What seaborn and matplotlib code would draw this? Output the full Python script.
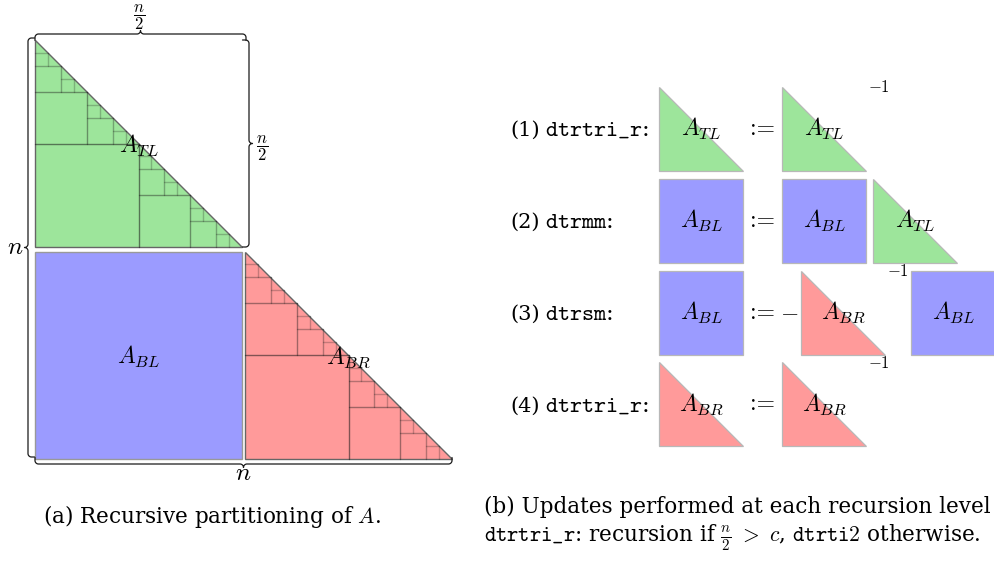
import numpy as np
import matplotlib
matplotlib.use("Agg")
from matplotlib import pyplot as plt
from matplotlib.patches import Polygon, Rectangle
import seaborn as sns

# blocks of A and their colours
block_names = ["TL", "BL", "BR"]
block_colors = {"TL": "#9de59b", "BL": "#9b9bff", "BR": "#ff9a9a"}
depth = 4  # recursion levels drawn in the triangles

# update rows of (b): number, routine, lhs block, rhs terms (block, inverted)
row_nums = ["(1)", "(2)", "(3)", "(4)"]
row_routines = ["dtrtri\\_r", "dtrmm", "dtrsm", "dtrtri\\_r"]
row_lhs = ["TL", "BL", "BL", "BR"]
row_neg = [False, False, True, False]
row_rhs = [[("TL", True)],
           [("BL", False), ("TL", False)],
           [("BR", True), ("BL", False)],
           [("BR", True)]]

cap_a = r"(a) Recursive partitioning of $A$."
cap_b1 = r"(b) Updates performed at each recursion level"
cap_b2 = r"$\mathtt{dtrtri\_r}$: recursion if $\frac{n}{2}\ >\ c$, $\mathtt{dtrti2}$ otherwise."

sns.set_theme(style="white")
plt.rcParams["font.family"] = ["DejaVu Serif"]
plt.rcParams["mathtext.fontset"] = "cm"
plt.rcParams["text.color"] = "black"

fig = plt.figure(figsize=(9.94, 5.62), dpi=100)
ax = fig.add_axes([0, 0, 1, 1])
ax.set_xlim(0, 994)
ax.set_ylim(562, 0)
ax.axis("off")


def is_tri(name):
    return name in ("TL", "BR")


def draw_block(x, y, s, name, edge="#b8b8b8", lw=0.9):
    if is_tri(name):
        p = Polygon([(x, y), (x, y + s), (x + s, y + s)], closed=True,
                    facecolor=block_colors[name], edgecolor=edge, lw=lw)
    else:
        p = Rectangle((x, y), s, s, facecolor=block_colors[name],
                      edgecolor=edge, lw=lw)
    ax.add_patch(p)


def split(x, y, s, level):
    if level > depth:
        return
    h = s / 2
    a = [0.55, 0.42, 0.32, 0.25][level - 1]
    ax.plot([x, x + h], [y + h, y + h], color="k", alpha=a, lw=1.0)
    ax.plot([x + h, x + h], [y + h, y + s], color="k", alpha=a, lw=1.0)
    split(x, y, h, level + 1)
    split(x + h, y + h, h, level + 1)


def arc(cx, cy, r, t0, t1):
    t = np.linspace(np.radians(t0), np.radians(t1), 20)
    return cx + r * np.cos(t), cy + r * np.sin(t)


def brace(a, b, pos, orient, r=3.5, tail=3.0):
    # brace along u in [a, b]; v = offset from pos towards the tip
    m = (a + b) / 2
    us, vs = [a, a], [-tail, 0]
    for cx, cy, t0, t1 in [(a + r, 0, 180, 90), (m - r, 2 * r, 270, 360),
                           (m + r, 2 * r, 180, 270), (b - r, 0, 90, 0)]:
        u, v = arc(cx, cy, r, t0, t1)
        us += list(u)
        vs += list(v)
    us += [b]
    vs += [-tail]
    us, vs = np.array(us), np.array(vs)
    if orient == "up":
        ax.plot(us, pos - vs, color="k", lw=0.9)
    elif orient == "down":
        ax.plot(us, pos + vs, color="k", lw=0.9)
    elif orient == "left":
        ax.plot(pos - vs, us, color="k", lw=0.9)
    else:
        ax.plot(pos + vs, us, color="k", lw=0.9)


# (a) recursive partitioning
S = 207
tl = (35, 40)
bl = (35, 251.5)
br = (245, 251.5)
draw_block(*tl, S, "TL", edge="#666666", lw=1.0)
split(*tl, S, 1)
draw_block(*bl, S, "BL", edge="#999999", lw=1.0)
draw_block(*br, S, "BR", edge="#666666", lw=1.0)
split(*br, S, 1)

for (x0, y0), name in zip([tl, bl, br], block_names):
    ax.text(x0 + S / 2, y0 + S / 2 + 2, r"$A_{%s}$" % name, fontsize=17,
            ha="center", va="center")

brace(35, 246, 37.5, "up")
ax.text(139, 17, r"$\dfrac{n}{2}$", fontsize=12, ha="center", va="center")
brace(40, 247, 245.5, "right")
ax.text(262, 148, r"$\dfrac{n}{2}$", fontsize=12, ha="center", va="center")
brace(38, 457, 31.5, "left")
ax.text(15, 248, r"$n$", fontsize=18, ha="center", va="center")
brace(35, 452, 460.5, "down")
ax.text(243, 474, r"$n$", fontsize=18, ha="center", va="center")

# (b) updates per recursion level
cell = 84
row_top0 = 87
row_step = 91.8
for i in range(len(row_nums)):
    y = row_top0 + i * row_step
    yc = y + cell / 2
    ax.text(510, yc + 7, row_nums[i], fontsize=15, ha="left", va="baseline")
    ax.text(545, yc + 7, r"$\mathtt{%s}$:" % row_routines[i], fontsize=16.5,
            ha="left", va="baseline")
    x = 659
    draw_block(x, y, cell, row_lhs[i])
    ax.text(x + cell / 2, yc, r"$A_{%s}$" % row_lhs[i], fontsize=17, ha="center", va="center")
    ax.text(762, yc + 6, ":=", fontsize=17, family="cmr10", ha="center", va="baseline")
    x = 782
    if row_neg[i]:
        ax.text(789, yc - 1, r"$-$", fontsize=17, ha="center", va="center")
        x += 19
    for name, inv in row_rhs[i]:
        draw_block(x, y, cell, name)
        ax.text(x + cell / 2, yc, r"$A_{%s}$" % name, fontsize=17, ha="center", va="center")
        x += cell
        if inv:
            ax.text(x + 13, y + 1, r"$-1$", fontsize=12, ha="center", va="center")
            x += 26
        else:
            x += 7

# captions
ax.text(43, 523, cap_a, fontsize=15.5, ha="left", va="baseline")
ax.text(484, 513, cap_b1, fontsize=15.5, ha="left", va="baseline")
ax.text(484, 542, cap_b2, fontsize=15.5, ha="left", va="baseline")

fig.savefig("out.png", dpi=100)
